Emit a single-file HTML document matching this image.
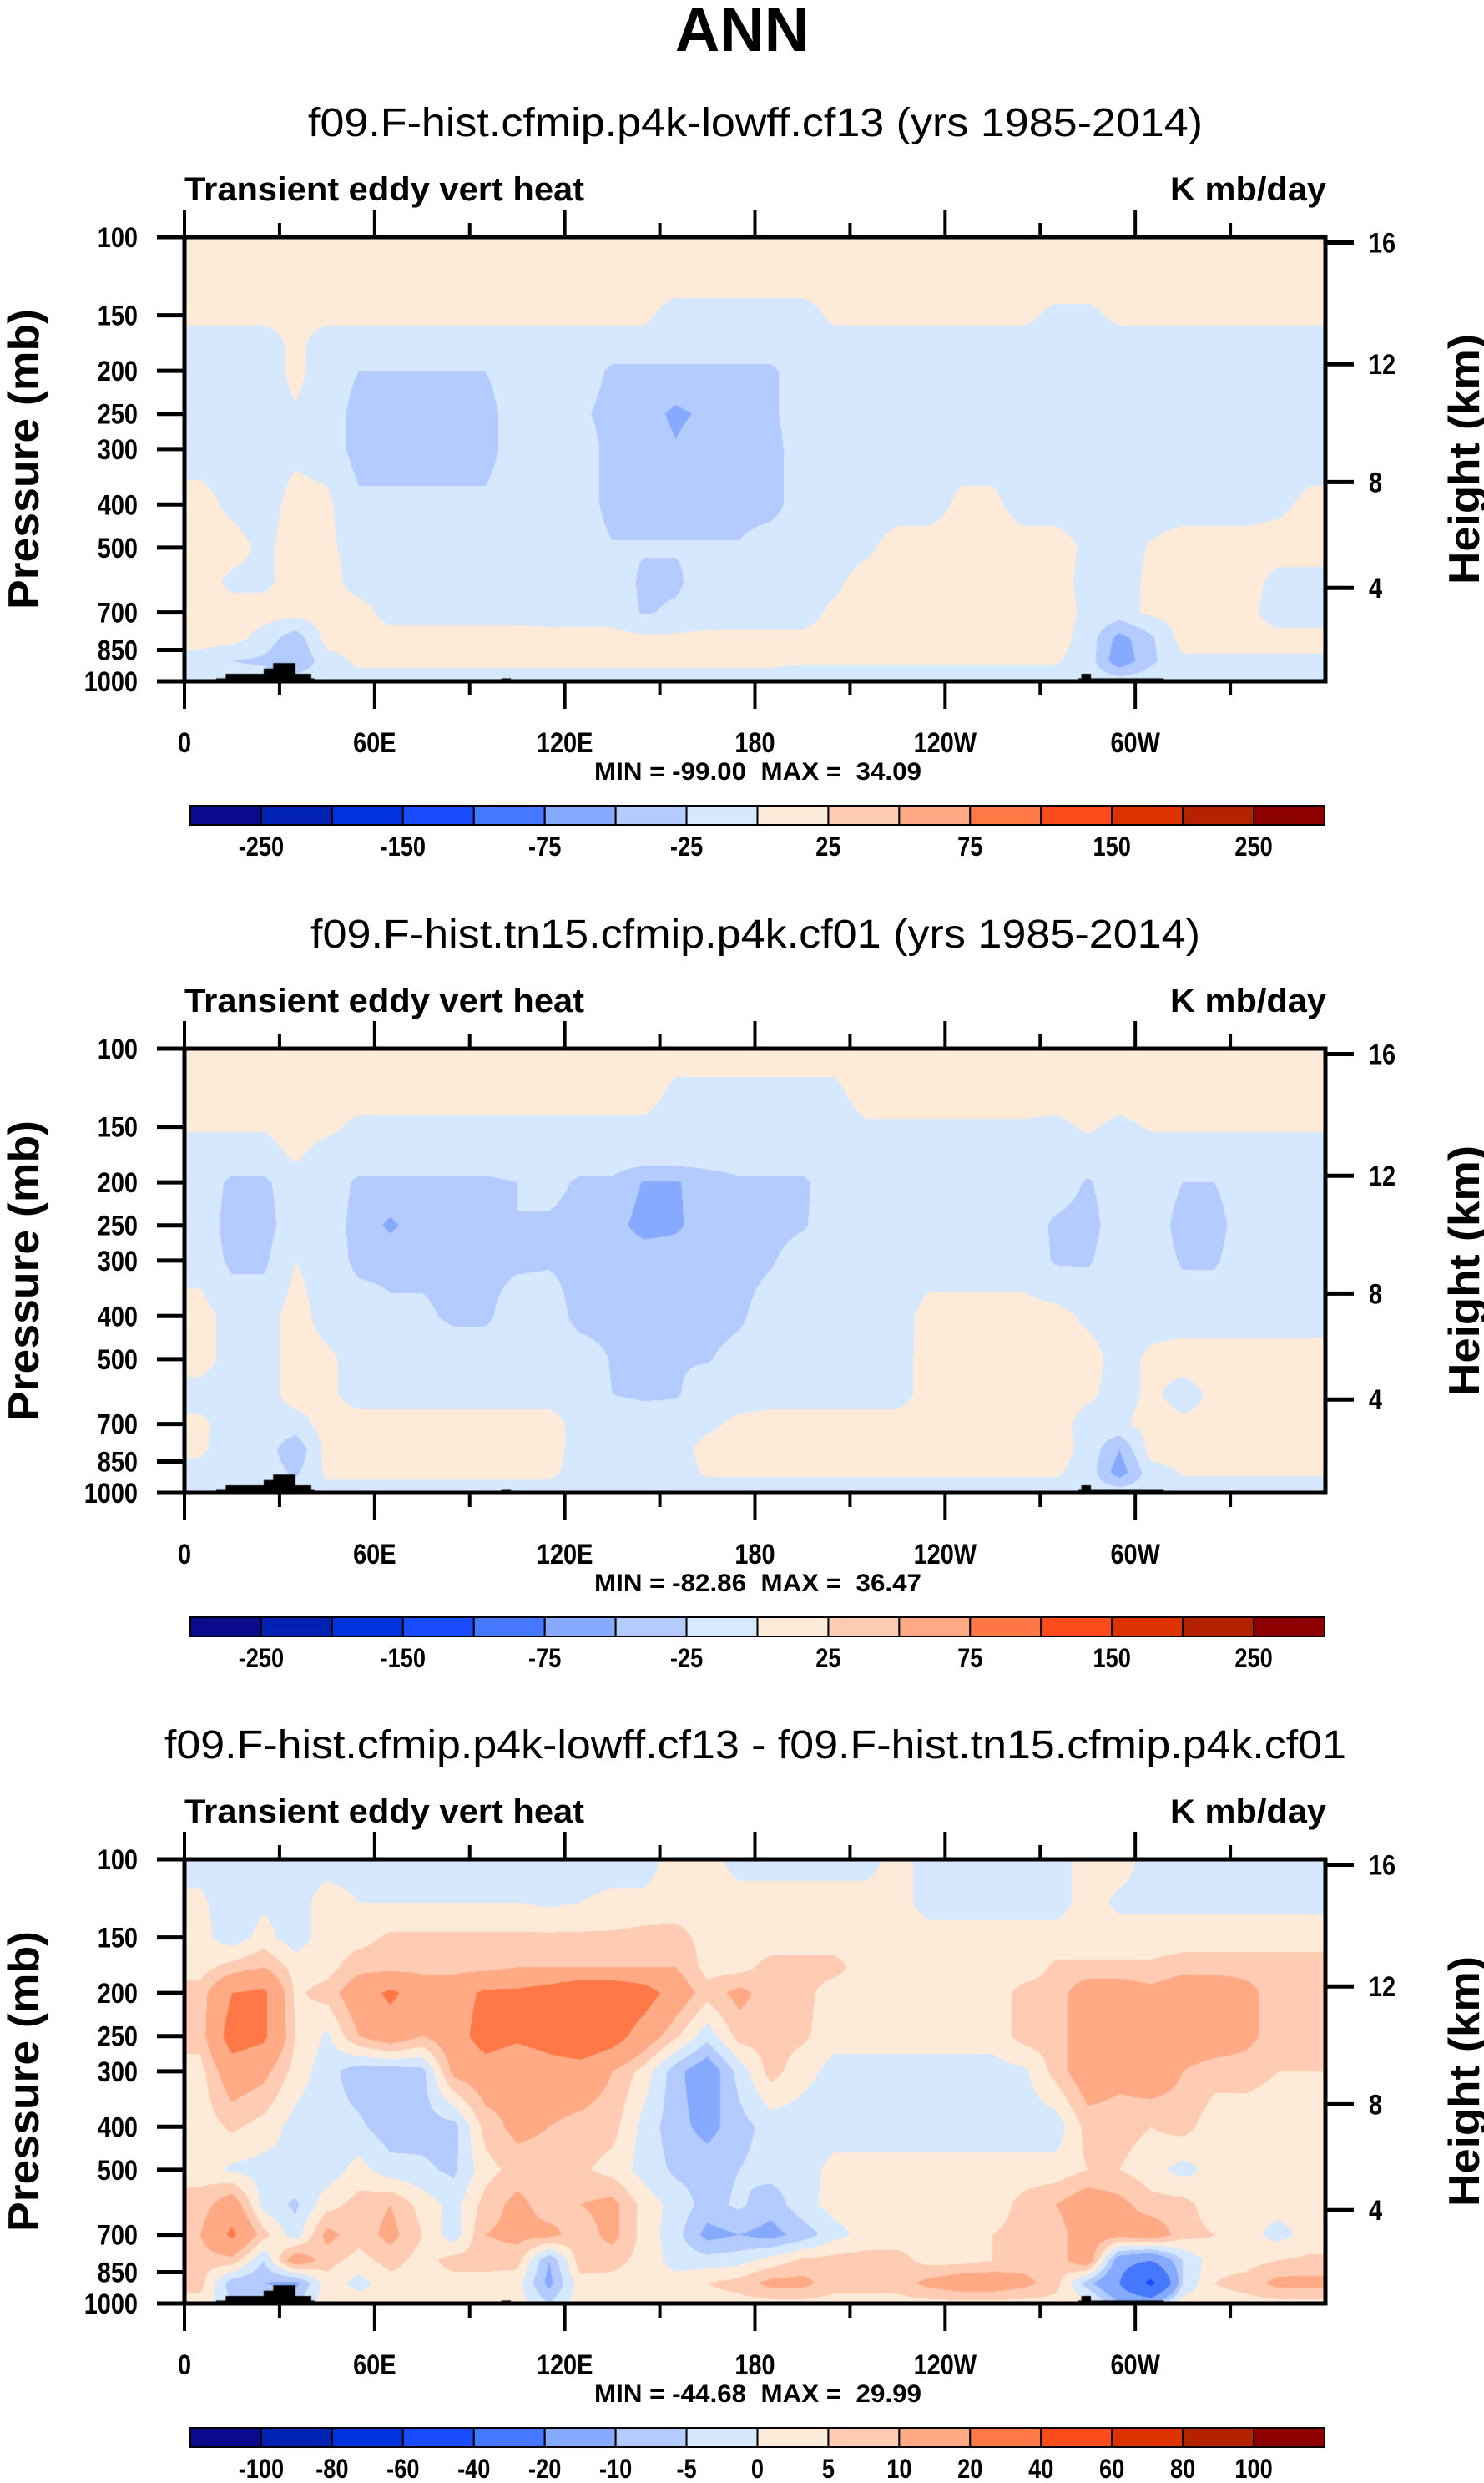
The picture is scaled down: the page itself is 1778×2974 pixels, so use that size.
<!DOCTYPE html>
<html><head><meta charset="utf-8">
<style>
html,body{margin:0;padding:0;background:#fff;}
#root{position:relative;width:1778px;height:2974px;overflow:hidden;background:#fff;}
canvas{position:absolute;}
svg{position:absolute;left:0;top:0;}
text{font-family:"Liberation Sans",sans-serif;fill:#000;}
.b{font-weight:bold;}
</style></head>
<body>
<div id="root">
<canvas id="c0"></canvas>
<canvas id="c1"></canvas>
<canvas id="c2"></canvas>
<svg id="ov" width="1778" height="2974"></svg>
</div>
<script>
// ---- data ----
const levels = [100,125,150,175,200,250,300,400,500,600,700,800,900,1000];
const lonCenters = [5,15,25,35,45,55,65,75,85,95,105,115,125,135,145,155,165,175,185,195,205,215,225,235,245,255,265,275,285,295,305,315,325,335,345,355];
const pressureTicks = [100,150,200,250,300,400,500,700,850,1000];
const heightTicks = [4,8,12,16];
const lonTicks = [0,60,120,180,240,300];
const lonTickLabels = ["0","60E","120E","180","120W","60W"];
const boundsAbs = [-250,-200,-150,-100,-75,-50,-25,0,25,50,75,100,150,200,250];
const labelsAbs = ["-250","","-150","","-75","","-25","","25","","75","","150","","250"];
const boundsDiff = [-100,-80,-60,-40,-20,-10,-5,0,5,10,20,40,60,80,100];
const labelsDiff = ["-100","-80","-60","-40","-20","-10","-5","0","5","10","20","40","60","80","100"];
const palette = ["#0a0a8c","#0222b4","#0033dd","#1a4cff","#4578ff","#85aaff","#b3cbfe","#d6e8fd","#feead8","#ffcbb2","#ffaa85","#ff7845","#ff4c1a","#dd3300","#b42200","#8c0000"];
const topoLon0 = [10,13,25,28,100,282,283];
const topoLon1 = [41,40,35,35,103,309,286];
const topoP = [985,962,936,910,985,985,962];

const field1 = [
[10,10,10,10,10,10,10,10,10,10,10,10,10,10,10,10,10,10,10,10,10,10,10,10,10,10,10,10,10,10,10,10,10,10,10,10],
[10,10,10,10,10,10,10,10,10,10,10,10,10,10,10,10,10,10,10,10,10,10,10,10,10,10,10,10,10,10,10,10,10,10,10,10],
[5,5,5,5,5,5,5,5,5,5,5,5,5,5,5,-10,-10,-10,-10,-10,5,5,5,5,5,5,5,-5,-5,5,5,5,5,5,5,5],
[-10,-10,-10,5,-10,-10,-10,-10,-10,-10,-10,-10,-10,-10,-10,-10,-10,-10,-10,-10,-10,-10,-10,-10,-10,-10,-10,-10,-10,-10,-10,-10,-10,-10,-10,-10],
[-10,-10,-10,5,-10,-25,-25,-25,-25,-25,-10,-10,-10,-30,-30,-30,-30,-30,-30,-10,-10,-10,-10,-10,-10,-10,-10,-10,-10,-10,-10,-10,-10,-10,-10,-10],
[-10,-10,-10,-2,-10,-35,-35,-35,-35,-35,-10,-10,-20,-35,-40,-55,-45,-35,-30,-10,-10,-10,-10,-10,-10,-10,-10,-10,-10,-10,-10,-10,-10,-10,-10,-10],
[-10,-10,-10,-5,-10,-35,-35,-35,-35,-35,-10,-10,-10,-35,-35,-48,-35,-35,-35,-10,-10,-10,-10,-10,-10,-10,-10,-10,-10,-10,-10,-10,-10,-10,-10,-10],
[8,-5,-10,8,5,-20,-20,-20,-20,-20,-10,-10,-10,-35,-35,-35,-35,-35,-35,-10,-10,-10,-10,-10,5,5,-10,-10,-10,-10,-10,-10,-10,-10,-5,5],
[10,8,-5,10,5,-10,-10,-10,-10,-10,-10,-10,-10,-23,-23,-23,-23,-23,-10,-10,-10,-5,10,10,10,10,10,10,-5,-10,2,10,10,10,10,10],
[10,-5,-5,10,10,-10,-10,-10,-10,-10,-10,-10,-10,-10,-30,-30,-10,-10,-10,-10,-5,10,10,10,10,10,10,10,-8,-10,5,10,10,10,-8,-8],
[10,10,10,10,10,10,-10,-10,-10,-10,-10,-10,-10,-10,-28,-20,-10,-10,-10,-10,5,10,10,10,10,10,10,10,-5,-10,5,10,10,10,-15,-15],
[10,10,-10,-40,10,10,10,10,10,10,10,8,8,8,5,5,5,5,5,5,10,10,10,10,10,10,10,10,-10,-60,-30,10,10,10,10,10],
[-10,-25,-30,-50,-10,5,5,5,5,5,5,5,5,5,5,5,5,5,5,2,2,2,2,2,2,2,2,2,-10,-70,-30,-5,-5,-5,-5,-5],
[-10,-10,-10,-10,-10,-10,-10,-10,-10,-10,-10,-10,-10,-10,-10,-10,-10,-10,-10,-10,-10,-10,-10,-10,-10,-10,-10,-10,-10,-10,-10,-10,-10,-10,-10,-10]
];
const field2 = [
[10,10,10,10,10,10,10,10,10,10,10,10,10,10,10,10,10,10,10,10,10,10,10,10,10,10,10,10,10,10,10,10,10,10,10,10],
[10,10,10,10,10,10,10,10,10,10,10,10,10,10,10,-5,-5,-5,-5,-5,-5,10,10,10,10,10,10,10,10,10,10,10,10,10,10,10],
[2,2,2,10,5,-5,-5,-5,-5,-5,-5,-5,-5,-5,-5,-10,-10,-10,-10,-10,-10,-3,-3,-3,-3,-3,-3,-5,3,-5,2,2,2,2,2,2],
[-10,-10,-10,3,-10,-10,-10,-10,-10,-10,-10,-10,-10,-10,-10,-10,-10,-10,-10,-10,-10,-10,-10,-10,-10,-10,-10,-10,-10,-10,-10,-10,-10,-10,-10,-10],
[-10,-30,-30,-10,-10,-30,-30,-30,-30,-30,-25,-15,-30,-30,-52,-52,-40,-30,-30,-30,-10,-10,-10,-10,-10,-10,-10,-10,-28,-10,-10,-25,-25,-10,-10,-10],
[-10,-35,-35,-10,-10,-35,-55,-35,-35,-35,-25,-30,-35,-40,-60,-55,-35,-35,-35,-28,-10,-10,-10,-10,-10,-10,-10,-30,-35,-10,-10,-35,-35,-10,-10,-10],
[-10,-30,-30,0,-10,-32,-32,-32,-32,-32,-30,-28,-32,-35,-35,-35,-35,-35,-28,-10,-10,-10,-10,-10,-10,-10,-10,-28,-28,-10,-10,-28,-28,-10,-10,-10],
[10,-10,-10,10,-10,-10,-20,-20,-30,-30,-10,-10,-35,-35,-35,-35,-35,-30,-10,-10,-10,-10,-10,8,8,8,8,8,-5,-10,-10,-10,-10,-10,-10,-10],
[10,-10,-10,10,5,-10,-10,-10,-10,-10,-10,-10,-10,-27,-27,-27,-27,-15,-10,-10,-10,-10,-10,10,10,10,10,10,10,-10,5,10,10,10,10,10],
[-10,-10,-10,10,5,-10,-10,-10,-10,-10,-10,-10,-10,-25,-28,-28,-10,-10,-10,-10,-10,-10,-10,10,10,10,10,10,5,-10,5,-10,5,5,5,5],
[5,-10,-10,-10,10,10,10,10,10,10,10,10,-10,-15,-15,-10,-5,5,10,10,10,10,10,10,10,10,10,10,-10,-5,10,5,5,5,5,5],
[5,-15,-10,-45,10,10,10,10,10,10,10,10,-10,-10,-10,-10,8,10,10,10,10,10,10,10,10,10,10,10,-8,-50,10,10,10,10,10,10],
[-10,-25,-10,-30,5,5,5,5,5,5,5,5,-10,-10,-10,-10,3,3,3,3,3,3,3,3,3,3,3,3,-10,-65,-10,2,2,2,2,2],
[-10,-10,-10,-10,-10,-10,-10,-10,-10,-10,-10,-10,-10,-10,-10,-10,-10,-10,-10,-10,-10,-10,-10,-10,-10,-10,-10,-10,-10,-10,-10,-10,-10,-10,-10,-10]
];
const field3 = [
[-2,-2,-2,-2,-2,-2,-2,-2,-2,-2,-2,-2,-2,-2,-2,2,2,-2,-2,-2,-2,-2,2,-2,-2,-2,-2,-2,2,2,-2,-2,-2,-2,-2,-2],
[1,-3,-1,-2,2,0,0,0,0,0,0,-1,0,1,1,2,2,2,2,2,2,2,2,-2,-2,-2,-2,-2,2,-1,-1,-1,-1,-1,-1,-1],
[2,-3,2,-3,3,3,6,6,6,6,6,6,6,6,7,7,3,2,2,2,2,2,2,2,2,2,2,2,2,2,2,2,2,2,2,2],
[3,7,10,3,3,8,8,8,8,8,10,10,10,10,10,10,3,3,7,7,7,2,2,2,2,2,2,6,6,6,6,8,8,8,8,8],
[7,20,22,4,7,15,22,15,15,22,22,25,30,30,25,15,7,12,7,7,2,2,2,2,2,2,7,7,15,15,12,15,15,12,7,7],
[7,25,22,5,-1,10,15,10,15,25,22,25,30,25,15,6,-3,7,7,6,2,2,2,2,2,2,7,7,15,15,15,15,15,12,7,7],
[3,15,12,3,-3,-8,-8,-7,12,15,12,15,15,10,3,-8,-15,-3,7,2,-2,-2,-2,-2,-2,-2,-1,7,15,12,15,10,7,7,5,5],
[2,6,3,-2,-3,-4,-8,-7,-7,7,12,10,8,7,-2,-8,-12,-7,-3,-3,-3,-3,-3,-3,-3,-3,-3,-3,7,7,5,7,2,2,2,2],
[3,-1,-2,-1,-3,2,-3,-4,-6,3,7,7,6,3,-2,-6,-7,-5,-3,-3,2,2,2,2,2,2,2,2,5,5,2,-2,2,2,2,2],
[7,15,-2,-6,3,7,10,3,-2,7,12,7,10,12,3,-2,-7,-4,-8,-2,2,2,2,2,2,2,7,10,15,12,7,7,2,2,2,2],
[10,22,7,-3,12,7,12,5,-3,10,12,12,7,12,3,-3,-12,-10,-12,-8,-2,2,2,3,2,5,7,7,15,12,15,7,5,2,-2,2],
[7,8,-5,15,7,3,7,3,7,7,7,-10,8,7,3,-2,-3,-2,2,6,7,7,7,3,3,5,7,7,15,-15,-20,-5,3,3,5,6],
[7,-8,-10,-12,3,-2,3,3,3,3,2,-12,3,3,2,2,5,7,12,12,7,7,7,12,15,15,12,7,-8,-20,-45,-5,5,7,12,12],
[3,-5,-5,-5,3,3,3,3,3,3,3,-5,3,3,3,3,3,3,3,3,3,3,3,3,3,3,3,3,3,-10,-10,3,3,3,3,3]
];

// ---- layout ----
const X0 = 221, X1 = 1588, PH = 532;
const panelTops = [284, 1256, 2227];
const fields = [field1, field2, field3];
const boundsSets = [boundsAbs, boundsAbs, boundsDiff];
const labelSets = [labelsAbs, labelsAbs, labelsDiff];
const subtitles = ["f09.F-hist.cfmip.p4k-lowff.cf13 (yrs 1985-2014)","f09.F-hist.tn15.cfmip.p4k.cf01 (yrs 1985-2014)","f09.F-hist.cfmip.p4k-lowff.cf13 - f09.F-hist.tn15.cfmip.p4k.cf01"];
const subW = [1072, 1066, 1416];
const minmax = ["MIN = -99.00  MAX =  34.09","MIN = -82.86  MAX =  36.47","MIN = -44.68  MAX =  29.99"];

function xOf(lon){ return X0 + (lon/360)*(X1-X0); }
function yOf(p, top){ return top + Math.log10(p/100)*PH; }
function pOfZ(z){ return z<=11 ? 1013.25*Math.pow(1-z/44.33,5.256) : 226.3*Math.exp(-(z-11)/6.34); }

const logLev = levels.map(p=>Math.log10(p));
function sample(f, lon, lp){
  let fi = (lon-lonCenters[0])/10; fi = Math.max(0, Math.min(lonCenters.length-1, fi));
  let i0 = Math.min(Math.floor(fi), lonCenters.length-2), tx = fi-i0;
  let j0 = 0; while(j0 < logLev.length-2 && lp > logLev[j0+1]) j0++;
  let ty = (lp-logLev[j0])/(logLev[j0+1]-logLev[j0]); ty = Math.max(0,Math.min(1,ty));
  const a=f[j0][i0], b=f[j0][i0+1], c=f[j0+1][i0], d=f[j0+1][i0+1];
  return (a*(1-tx)+b*tx)*(1-ty) + (c*(1-tx)+d*tx)*ty;
}
function hex(h){ return [parseInt(h.substr(1,2),16),parseInt(h.substr(3,2),16),parseInt(h.substr(5,2),16)]; }
const rgb = palette.map(hex);

for(let k=0;k<3;k++){
  const cv = document.getElementById('c'+k);
  const W = X1-X0, top = panelTops[k];
  cv.width = W; cv.height = PH; cv.style.left = X0+'px'; cv.style.top = top+'px';
  const ctx = cv.getContext('2d');
  const img = ctx.createImageData(W, PH);
  const bnds = boundsSets[k], f = fields[k];
  for(let y=0;y<PH;y++){
    const lp = 2 + (y+0.5)/PH;
    for(let x=0;x<W;x++){
      const lon = (x+0.5)/W*360;
      const v = sample(f, lon, lp);
      let ci=0; while(ci<bnds.length && v>=bnds[ci]) ci++;
      const c = rgb[ci], o=(y*W+x)*4;
      img.data[o]=c[0]; img.data[o+1]=c[1]; img.data[o+2]=c[2]; img.data[o+3]=255;
    }
  }
  ctx.putImageData(img,0,0);
  ctx.fillStyle='#000';
  for(let t=0;t<topoP.length;t++){
    const xa = xOf(topoLon0[t])-X0, xb = xOf(topoLon1[t])-X0;
    const ya = yOf(topoP[t], top)-top;
    ctx.fillRect(xa, ya, xb-xa, PH-ya);
  }
}

// ---- overlay ----
const NS='http://www.w3.org/2000/svg';
const ov = document.getElementById('ov');
function mk(tag, attrs, txt){
  const e = document.createElementNS(NS, tag);
  for(const a in attrs) e.setAttribute(a, attrs[a]);
  if(txt!==undefined) e.textContent = txt;
  ov.appendChild(e); return e;
}
let t = mk('text',{x:889,y:61,'text-anchor':'middle','font-size':74,class:'b'},'ANN');



for(let k=0;k<3;k++){
  const top = panelTops[k], bot = top+PH, off = top-284;
  t = mk('text',{x:905,y:163+off,'text-anchor':'middle','font-size':48,textLength:subW[k],lengthAdjust:'spacingAndGlyphs'},subtitles[k]);
  
  
  t = mk('text',{x:221,y:240+off,'font-size':40,class:'b',textLength:479,lengthAdjust:'spacingAndGlyphs'},'Transient eddy vert heat');
  
  
  t = mk('text',{x:1589,y:240+off,'text-anchor':'end','font-size':40,class:'b',textLength:187,lengthAdjust:'spacingAndGlyphs'},'K mb/day');
  
  
  const fr = mk('rect',{x:X0,y:top,width:X1-X0,height:PH,fill:'none',stroke:'#000','stroke-width':5});
  
  
  for(let lon=0; lon<=330; lon+=30){
    const major = lon%60===0, L = major?33:17, x=xOf(lon);
    mk('line',{x1:x,y1:top,x2:x,y2:top-L,stroke:'#000','stroke-width':4});
    mk('line',{x1:x,y1:bot,x2:x,y2:bot+L,stroke:'#000','stroke-width':4});
  }
  lonTicks.forEach((lon,i)=>{
    const e = mk('text',{x:xOf(lon),y:901+off,'text-anchor':'middle','font-size':34,class:'b',transform:`translate(${xOf(lon)},0) scale(0.85,1) translate(${-xOf(lon)},0)`},lonTickLabels[i]);
    
    
  });
  pressureTicks.forEach(p=>{
    const y = yOf(p, top);
    mk('line',{x1:188,y1:y,x2:X0,y2:y,stroke:'#000','stroke-width':5});
    const e = mk('text',{x:165,y:y+12,'text-anchor':'end','font-size':34,class:'b',transform:`translate(165,0) scale(0.85,1) translate(-165,0)`},String(p));
    
    
  });
  heightTicks.forEach(z=>{
    const y = yOf(pOfZ(z), top);
    mk('line',{x1:X1,y1:y,x2:X1+34,y2:y,stroke:'#000','stroke-width':5});
    const e = mk('text',{x:1640,y:y+12,'font-size':34,class:'b',transform:`translate(1640,0) scale(0.85,1) translate(-1640,0)`},String(z));
    
    
  });
  const cy = top+PH/2;
  t = mk('text',{x:0,y:0,'text-anchor':'middle','font-size':52,class:'b',textLength:360,lengthAdjust:'spacingAndGlyphs',transform:`translate(46,${cy}) rotate(-90)`},'Pressure (mb)');
  
  
  t = mk('text',{x:0,y:0,'text-anchor':'middle','font-size':52,class:'b',textLength:300,lengthAdjust:'spacingAndGlyphs',transform:`translate(1772,${cy}) rotate(-90)`},'Height (km)');
  
  
  t = mk('text',{x:908,y:934+off,'text-anchor':'middle','font-size':30,class:'b',textLength:392,lengthAdjust:'spacingAndGlyphs',style:'white-space:pre'},minmax[k]);
  
  
  const cb0=228, cb1=1587, cbT=965+off, cbH=23, bw=(cb1-cb0)/16;
  for(let i=0;i<16;i++){
    const r = mk('rect',{x:cb0+i*bw,y:cbT,width:bw,height:cbH,fill:palette[i],stroke:'#000','stroke-width':2});
    
    
  }
  labelSets[k].forEach((lab,i)=>{
    if(!lab) return;
    const x = cb0+(i+1)*bw;
    const e = mk('text',{x:x,y:1025+off,'text-anchor':'middle','font-size':32,class:'b',transform:`translate(${x},0) scale(0.85,1) translate(${-x},0)`},lab);
    
    
  });
}
</script>
</body></html>
